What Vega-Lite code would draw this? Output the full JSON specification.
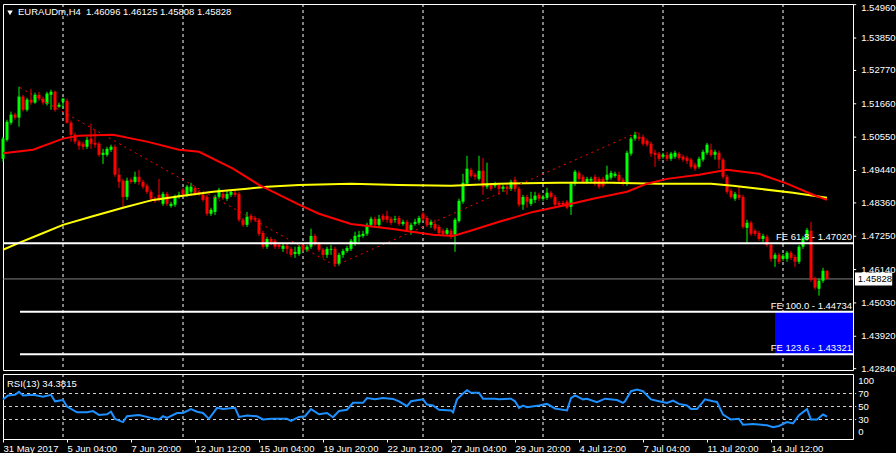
{
"$schema": "https://vega.github.io/schema/vega-lite/v6.json",
"background": "#000000",
"padding": {"left": -2, "top": 2, "right": 0, "bottom": 0},
"spacing": 4,
"bounds": "flush",
"config": {
  "view": {"stroke": "#ffffff", "strokeWidth": 1},
  "axis": {"labelColor": "#ffffff", "tickColor": "#ffffff", "labelFont": "Liberation Sans", "labelFontSize": 9.5, "domain": false, "grid": false, "tickSize": 3, "labelPadding": 2, "labelOverlap": false},
  "text": {"font": "Liberation Sans", "fontSize": 9.5, "color": "#ffffff"}
},
"datasets": {
  "sep": [{"i":15},{"i":45},{"i":75},{"i":105},{"i":135},{"i":165},{"i":195}],
  "priceTicks": [
{"i":212.5,"i2":213.3,"p":1.5496,"t":"1.54960"},{"i":212.5,"i2":213.3,"p":1.5385,"t":"1.53850"},{"i":212.5,"i2":213.3,"p":1.5277,"t":"1.52770"},{"i":212.5,"i2":213.3,"p":1.5166,"t":"1.51660"},{"i":212.5,"i2":213.3,"p":1.5055,"t":"1.50550"},{"i":212.5,"i2":213.3,"p":1.4944,"t":"1.49440"},{"i":212.5,"i2":213.3,"p":1.4836,"t":"1.48360"},{"i":212.5,"i2":213.3,"p":1.4725,"t":"1.47250"},{"i":212.5,"i2":213.3,"p":1.4614,"t":"1.46140"},{"i":212.5,"i2":213.3,"p":1.4503,"t":"1.45030"},{"i":212.5,"i2":213.3,"p":1.4392,"t":"1.43920"},{"i":212.5,"i2":213.3,"p":1.4284,"t":"1.42840"}
  ],
  "rsiTicks": [
{"i":213.8,"r":89,"t":"100"},{"i":213.8,"r":70,"t":"70"},{"i":213.8,"r":50,"t":"50"},{"i":213.8,"r":30,"t":"30"},{"i":213.8,"r":11,"t":"0"}
  ],
  "rsiLevels": [
{"i":0,"i2":213.3,"r":30},{"i":0,"i2":213.3,"r":50},{"i":0,"i2":213.3,"r":70}
  ],
  "candles": [
{"i":0,"o":1.4983,"h":1.5056,"l":1.4973,"c":1.5050},
{"i":1,"o":1.5046,"h":1.5113,"l":1.5040,"c":1.5106},
{"i":2,"o":1.5103,"h":1.5140,"l":1.5096,"c":1.5130},
{"i":3,"o":1.5130,"h":1.5136,"l":1.5113,"c":1.5120},
{"i":4,"o":1.5120,"h":1.5223,"l":1.5090,"c":1.5190},
{"i":5,"o":1.5190,"h":1.5196,"l":1.5140,"c":1.5146},
{"i":6,"o":1.5146,"h":1.5186,"l":1.5140,"c":1.5180},
{"i":7,"o":1.5180,"h":1.5216,"l":1.5163,"c":1.5170},
{"i":8,"o":1.5170,"h":1.5203,"l":1.5166,"c":1.5196},
{"i":9,"o":1.5196,"h":1.5206,"l":1.5176,"c":1.5183},
{"i":10,"o":1.5183,"h":1.5190,"l":1.5163,"c":1.5170},
{"i":11,"o":1.5166,"h":1.5206,"l":1.5160,"c":1.5200},
{"i":12,"o":1.5196,"h":1.5213,"l":1.5146,"c":1.5206},
{"i":13,"o":1.5206,"h":1.5210,"l":1.5140,"c":1.5146},
{"i":14,"o":1.5156,"h":1.5170,"l":1.5153,"c":1.5163},
{"i":15,"o":1.5173,"h":1.5186,"l":1.5150,"c":1.5183},
{"i":16,"o":1.5176,"h":1.5183,"l":1.5100,"c":1.5103},
{"i":17,"o":1.5103,"h":1.5110,"l":1.5040,"c":1.5063},
{"i":18,"o":1.5063,"h":1.5070,"l":1.5033,"c":1.5040},
{"i":19,"o":1.5040,"h":1.5046,"l":1.5013,"c":1.5026},
{"i":20,"o":1.5033,"h":1.5040,"l":1.5013,"c":1.5023},
{"i":21,"o":1.5023,"h":1.5056,"l":1.5016,"c":1.5046},
{"i":22,"o":1.5050,"h":1.5100,"l":1.5016,"c":1.5033},
{"i":23,"o":1.5036,"h":1.5080,"l":1.5020,"c":1.5030},
{"i":24,"o":1.5033,"h":1.5040,"l":1.4990,"c":1.4996},
{"i":25,"o":1.4996,"h":1.5016,"l":1.4966,"c":1.5003},
{"i":26,"o":1.4996,"h":1.5023,"l":1.4990,"c":1.5016},
{"i":27,"o":1.5013,"h":1.5030,"l":1.5006,"c":1.5023},
{"i":28,"o":1.5023,"h":1.5030,"l":1.4923,"c":1.4930},
{"i":29,"o":1.4930,"h":1.4953,"l":1.4886,"c":1.4906},
{"i":30,"o":1.4910,"h":1.4916,"l":1.4823,"c":1.4856},
{"i":31,"o":1.4856,"h":1.4920,"l":1.4846,"c":1.4910},
{"i":32,"o":1.4913,"h":1.4920,"l":1.4900,"c":1.4906},
{"i":33,"o":1.4906,"h":1.4940,"l":1.4900,"c":1.4923},
{"i":34,"o":1.4923,"h":1.4946,"l":1.4896,"c":1.4906},
{"i":35,"o":1.4906,"h":1.4913,"l":1.4883,"c":1.4890},
{"i":36,"o":1.4893,"h":1.4900,"l":1.4866,"c":1.4873},
{"i":37,"o":1.4873,"h":1.4880,"l":1.4840,"c":1.4850},
{"i":38,"o":1.4850,"h":1.4856,"l":1.4836,"c":1.4843},
{"i":39,"o":1.4863,"h":1.4916,"l":1.4840,"c":1.4850},
{"i":40,"o":1.4833,"h":1.4873,"l":1.4826,"c":1.4866},
{"i":41,"o":1.4866,"h":1.4873,"l":1.4826,"c":1.4833},
{"i":42,"o":1.4826,"h":1.4840,"l":1.4820,"c":1.4833},
{"i":43,"o":1.4830,"h":1.4863,"l":1.4823,"c":1.4856},
{"i":44,"o":1.4856,"h":1.4873,"l":1.4850,"c":1.4863},
{"i":45,"o":1.4880,"h":1.4886,"l":1.4856,"c":1.4863},
{"i":46,"o":1.4863,"h":1.4896,"l":1.4856,"c":1.4890},
{"i":47,"o":1.4873,"h":1.4903,"l":1.4866,"c":1.4890},
{"i":48,"o":1.4886,"h":1.4893,"l":1.4860,"c":1.4866},
{"i":49,"o":1.4873,"h":1.4880,"l":1.4860,"c":1.4866},
{"i":50,"o":1.4863,"h":1.4870,"l":1.4840,"c":1.4846},
{"i":51,"o":1.4856,"h":1.4863,"l":1.4793,"c":1.4800},
{"i":52,"o":1.4800,"h":1.4820,"l":1.4793,"c":1.4813},
{"i":53,"o":1.4806,"h":1.4863,"l":1.4796,"c":1.4856},
{"i":54,"o":1.4856,"h":1.4886,"l":1.4850,"c":1.4880},
{"i":55,"o":1.4866,"h":1.4873,"l":1.4846,"c":1.4853},
{"i":56,"o":1.4850,"h":1.4876,"l":1.4843,"c":1.4866},
{"i":57,"o":1.4863,"h":1.4880,"l":1.4856,"c":1.4873},
{"i":58,"o":1.4870,"h":1.4876,"l":1.4856,"c":1.4863},
{"i":59,"o":1.4866,"h":1.4873,"l":1.4773,"c":1.4780},
{"i":60,"o":1.4780,"h":1.4786,"l":1.4756,"c":1.4763},
{"i":61,"o":1.4763,"h":1.4806,"l":1.4756,"c":1.4790},
{"i":62,"o":1.4793,"h":1.4800,"l":1.4770,"c":1.4780},
{"i":63,"o":1.4786,"h":1.4793,"l":1.4773,"c":1.4780},
{"i":64,"o":1.4780,"h":1.4786,"l":1.4726,"c":1.4733},
{"i":65,"o":1.4736,"h":1.4743,"l":1.4683,"c":1.4690},
{"i":66,"o":1.4690,"h":1.4723,"l":1.4683,"c":1.4716},
{"i":67,"o":1.4716,"h":1.4723,"l":1.4696,"c":1.4706},
{"i":68,"o":1.4710,"h":1.4716,"l":1.4683,"c":1.4690},
{"i":69,"o":1.4696,"h":1.4703,"l":1.4683,"c":1.4690},
{"i":70,"o":1.4683,"h":1.4700,"l":1.4673,"c":1.4693},
{"i":71,"o":1.4693,"h":1.4700,"l":1.4666,"c":1.4683},
{"i":72,"o":1.4683,"h":1.4690,"l":1.4656,"c":1.4663},
{"i":73,"o":1.4666,"h":1.4690,"l":1.4653,"c":1.4673},
{"i":74,"o":1.4666,"h":1.4696,"l":1.4660,"c":1.4690},
{"i":75,"o":1.4696,"h":1.4703,"l":1.4673,"c":1.4680},
{"i":76,"o":1.4680,"h":1.4696,"l":1.4673,"c":1.4690},
{"i":77,"o":1.4690,"h":1.4750,"l":1.4683,"c":1.4726},
{"i":78,"o":1.4726,"h":1.4733,"l":1.4693,"c":1.4700},
{"i":79,"o":1.4700,"h":1.4706,"l":1.4673,"c":1.4680},
{"i":80,"o":1.4680,"h":1.4686,"l":1.4653,"c":1.4663},
{"i":81,"o":1.4663,"h":1.4690,"l":1.4653,"c":1.4683},
{"i":82,"o":1.4680,"h":1.4696,"l":1.4663,"c":1.4683},
{"i":83,"o":1.4683,"h":1.4690,"l":1.4623,"c":1.4633},
{"i":84,"o":1.4633,"h":1.4670,"l":1.4627,"c":1.4663},
{"i":85,"o":1.4663,"h":1.4683,"l":1.4653,"c":1.4676},
{"i":86,"o":1.4676,"h":1.4693,"l":1.4670,"c":1.4686},
{"i":87,"o":1.4683,"h":1.4716,"l":1.4676,"c":1.4710},
{"i":88,"o":1.4700,"h":1.4740,"l":1.4693,"c":1.4726},
{"i":89,"o":1.4723,"h":1.4743,"l":1.4706,"c":1.4730},
{"i":90,"o":1.4726,"h":1.4743,"l":1.4720,"c":1.4733},
{"i":91,"o":1.4733,"h":1.4770,"l":1.4726,"c":1.4763},
{"i":92,"o":1.4763,"h":1.4790,"l":1.4756,"c":1.4783},
{"i":93,"o":1.4783,"h":1.4790,"l":1.4753,"c":1.4763},
{"i":94,"o":1.4763,"h":1.4796,"l":1.4756,"c":1.4783},
{"i":95,"o":1.4793,"h":1.4800,"l":1.4773,"c":1.4780},
{"i":96,"o":1.4793,"h":1.4810,"l":1.4770,"c":1.4780},
{"i":97,"o":1.4783,"h":1.4790,"l":1.4763,"c":1.4770},
{"i":98,"o":1.4780,"h":1.4793,"l":1.4770,"c":1.4783},
{"i":99,"o":1.4786,"h":1.4793,"l":1.4760,"c":1.4766},
{"i":100,"o":1.4766,"h":1.4780,"l":1.4760,"c":1.4773},
{"i":101,"o":1.4773,"h":1.4780,"l":1.4740,"c":1.4746},
{"i":102,"o":1.4746,"h":1.4770,"l":1.4730,"c":1.4763},
{"i":103,"o":1.4766,"h":1.4783,"l":1.4760,"c":1.4773},
{"i":104,"o":1.4770,"h":1.4793,"l":1.4763,"c":1.4786},
{"i":105,"o":1.4800,"h":1.4806,"l":1.4776,"c":1.4783},
{"i":106,"o":1.4786,"h":1.4793,"l":1.4756,"c":1.4763},
{"i":107,"o":1.4763,"h":1.4780,"l":1.4753,"c":1.4773},
{"i":108,"o":1.4766,"h":1.4780,"l":1.4743,"c":1.4750},
{"i":109,"o":1.4756,"h":1.4763,"l":1.4730,"c":1.4736},
{"i":110,"o":1.4743,"h":1.4750,"l":1.4726,"c":1.4733},
{"i":111,"o":1.4733,"h":1.4753,"l":1.4726,"c":1.4746},
{"i":112,"o":1.4743,"h":1.4750,"l":1.4716,"c":1.4723},
{"i":113,"o":1.4730,"h":1.4786,"l":1.4673,"c":1.4780},
{"i":114,"o":1.4776,"h":1.4850,"l":1.4770,"c":1.4843},
{"i":115,"o":1.4840,"h":1.4933,"l":1.4833,"c":1.4903},
{"i":116,"o":1.4900,"h":1.4993,"l":1.4893,"c":1.4950},
{"i":117,"o":1.4946,"h":1.4953,"l":1.4920,"c":1.4926},
{"i":118,"o":1.4930,"h":1.4936,"l":1.4913,"c":1.4923},
{"i":119,"o":1.4916,"h":1.4993,"l":1.4910,"c":1.4943},
{"i":120,"o":1.4943,"h":1.4986,"l":1.4863,"c":1.4890},
{"i":121,"o":1.4890,"h":1.4970,"l":1.4883,"c":1.4900},
{"i":122,"o":1.4896,"h":1.4903,"l":1.4876,"c":1.4883},
{"i":123,"o":1.4893,"h":1.4906,"l":1.4886,"c":1.4900},
{"i":124,"o":1.4896,"h":1.4903,"l":1.4863,"c":1.4883},
{"i":125,"o":1.4883,"h":1.4896,"l":1.4873,"c":1.4890},
{"i":126,"o":1.4890,"h":1.4896,"l":1.4863,"c":1.4883},
{"i":127,"o":1.4883,"h":1.4913,"l":1.4876,"c":1.4906},
{"i":128,"o":1.4913,"h":1.4923,"l":1.4873,"c":1.4883},
{"i":129,"o":1.4883,"h":1.4890,"l":1.4823,"c":1.4830},
{"i":130,"o":1.4830,"h":1.4863,"l":1.4813,"c":1.4856},
{"i":131,"o":1.4856,"h":1.4863,"l":1.4820,"c":1.4840},
{"i":132,"o":1.4833,"h":1.4873,"l":1.4826,"c":1.4850},
{"i":133,"o":1.4846,"h":1.4873,"l":1.4836,"c":1.4860},
{"i":134,"o":1.4863,"h":1.4870,"l":1.4843,"c":1.4850},
{"i":135,"o":1.4850,"h":1.4863,"l":1.4843,"c":1.4856},
{"i":136,"o":1.4853,"h":1.4886,"l":1.4846,"c":1.4870},
{"i":137,"o":1.4870,"h":1.4876,"l":1.4850,"c":1.4856},
{"i":138,"o":1.4856,"h":1.4863,"l":1.4823,"c":1.4830},
{"i":139,"o":1.4836,"h":1.4843,"l":1.4823,"c":1.4830},
{"i":140,"o":1.4836,"h":1.4843,"l":1.4823,"c":1.4830},
{"i":141,"o":1.4840,"h":1.4846,"l":1.4816,"c":1.4820},
{"i":142,"o":1.4823,"h":1.4906,"l":1.4796,"c":1.4900},
{"i":143,"o":1.4900,"h":1.4946,"l":1.4893,"c":1.4940},
{"i":144,"o":1.4936,"h":1.4943,"l":1.4910,"c":1.4916},
{"i":145,"o":1.4923,"h":1.4930,"l":1.4900,"c":1.4906},
{"i":146,"o":1.4906,"h":1.4923,"l":1.4900,"c":1.4916},
{"i":147,"o":1.4910,"h":1.4923,"l":1.4903,"c":1.4916},
{"i":148,"o":1.4923,"h":1.4930,"l":1.4893,"c":1.4900},
{"i":149,"o":1.4916,"h":1.4923,"l":1.4883,"c":1.4890},
{"i":150,"o":1.4916,"h":1.4923,"l":1.4886,"c":1.4893},
{"i":151,"o":1.4913,"h":1.4960,"l":1.4906,"c":1.4930},
{"i":152,"o":1.4920,"h":1.4943,"l":1.4913,"c":1.4936},
{"i":153,"o":1.4926,"h":1.4940,"l":1.4920,"c":1.4933},
{"i":154,"o":1.4930,"h":1.4940,"l":1.4903,"c":1.4910},
{"i":155,"o":1.4913,"h":1.4920,"l":1.4893,"c":1.4900},
{"i":156,"o":1.4900,"h":1.5010,"l":1.4893,"c":1.5003},
{"i":157,"o":1.5000,"h":1.5056,"l":1.4993,"c":1.5050},
{"i":158,"o":1.5050,"h":1.5073,"l":1.5043,"c":1.5063},
{"i":159,"o":1.5056,"h":1.5070,"l":1.5043,"c":1.5050},
{"i":160,"o":1.5056,"h":1.5063,"l":1.5026,"c":1.5033},
{"i":161,"o":1.5043,"h":1.5050,"l":1.5023,"c":1.5030},
{"i":162,"o":1.5033,"h":1.5040,"l":1.4990,"c":1.5000},
{"i":163,"o":1.5003,"h":1.5013,"l":1.4956,"c":1.4996},
{"i":164,"o":1.5000,"h":1.5006,"l":1.4976,"c":1.4983},
{"i":165,"o":1.4990,"h":1.5003,"l":1.4983,"c":1.4996},
{"i":166,"o":1.4996,"h":1.5006,"l":1.4976,"c":1.4983},
{"i":167,"o":1.4983,"h":1.5006,"l":1.4976,"c":1.5000},
{"i":168,"o":1.4990,"h":1.5010,"l":1.4983,"c":1.5003},
{"i":169,"o":1.5000,"h":1.5006,"l":1.4980,"c":1.4986},
{"i":170,"o":1.4990,"h":1.4996,"l":1.4973,"c":1.4980},
{"i":171,"o":1.4986,"h":1.4993,"l":1.4966,"c":1.4976},
{"i":172,"o":1.4980,"h":1.4986,"l":1.4950,"c":1.4956},
{"i":173,"o":1.4963,"h":1.4970,"l":1.4943,"c":1.4950},
{"i":174,"o":1.4956,"h":1.4990,"l":1.4950,"c":1.4983},
{"i":175,"o":1.4980,"h":1.5013,"l":1.4973,"c":1.5006},
{"i":176,"o":1.5003,"h":1.5036,"l":1.4996,"c":1.5030},
{"i":177,"o":1.5013,"h":1.5033,"l":1.4990,"c":1.4996},
{"i":178,"o":1.4996,"h":1.5013,"l":1.4980,"c":1.5006},
{"i":179,"o":1.5003,"h":1.5010,"l":1.4950,"c":1.4980},
{"i":180,"o":1.4980,"h":1.4986,"l":1.4916,"c":1.4923},
{"i":181,"o":1.4923,"h":1.4930,"l":1.4866,"c":1.4873},
{"i":182,"o":1.4876,"h":1.4883,"l":1.4850,"c":1.4856},
{"i":183,"o":1.4850,"h":1.4873,"l":1.4843,"c":1.4866},
{"i":184,"o":1.4863,"h":1.4890,"l":1.4846,"c":1.4853},
{"i":185,"o":1.4856,"h":1.4863,"l":1.4750,"c":1.4756},
{"i":186,"o":1.4753,"h":1.4780,"l":1.4703,"c":1.4770},
{"i":187,"o":1.4770,"h":1.4776,"l":1.4726,"c":1.4733},
{"i":188,"o":1.4743,"h":1.4750,"l":1.4726,"c":1.4733},
{"i":189,"o":1.4736,"h":1.4743,"l":1.4710,"c":1.4716},
{"i":190,"o":1.4716,"h":1.4733,"l":1.4706,"c":1.4726},
{"i":191,"o":1.4723,"h":1.4730,"l":1.4690,"c":1.4696},
{"i":192,"o":1.4696,"h":1.4703,"l":1.4640,"c":1.4650},
{"i":193,"o":1.4650,"h":1.4670,"l":1.4623,"c":1.4663},
{"i":194,"o":1.4663,"h":1.4670,"l":1.4633,"c":1.4640},
{"i":195,"o":1.4650,"h":1.4666,"l":1.4643,"c":1.4660},
{"i":196,"o":1.4650,"h":1.4676,"l":1.4640,"c":1.4670},
{"i":197,"o":1.4670,"h":1.4676,"l":1.4646,"c":1.4653},
{"i":198,"o":1.4656,"h":1.4663,"l":1.4623,"c":1.4640},
{"i":199,"o":1.4640,"h":1.4696,"l":1.4633,"c":1.4690},
{"i":200,"o":1.4690,"h":1.4726,"l":1.4683,"c":1.4720},
{"i":201,"o":1.4716,"h":1.4753,"l":1.4710,"c":1.4746},
{"i":202,"o":1.4743,"h":1.4773,"l":1.4573,"c":1.4580},
{"i":203,"o":1.4584,"h":1.4590,"l":1.4547,"c":1.4554},
{"i":204,"o":1.4550,"h":1.4584,"l":1.4527,"c":1.4577},
{"i":205,"o":1.4577,"h":1.4620,"l":1.4570,"c":1.4610},
{"i":206,"o":1.46096,"h":1.46125,"l":1.45808,"c":1.45828}
  ],
  "maRed": [
{"i":0,"p":1.5001},{"i":7.5,"p":1.5013},{"i":15,"p":1.5050},{"i":19,"p":1.5060},{"i":27.5,"p":1.5063},{"i":36,"p":1.5040},{"i":44,"p":1.5013},{"i":49,"p":1.5006},{"i":57.5,"p":1.4950},{"i":64,"p":1.4896},{"i":74,"p":1.4830},{"i":79,"p":1.4800},{"i":87,"p":1.4766},{"i":97,"p":1.4750},{"i":107.5,"p":1.4730},{"i":112.5,"p":1.4726},{"i":117.5,"p":1.4746},{"i":124,"p":1.4773},{"i":132.5,"p":1.4806},{"i":141,"p":1.4830},{"i":147.5,"p":1.4850},{"i":156,"p":1.4873},{"i":161,"p":1.4900},{"i":166,"p":1.4916},{"i":174,"p":1.4930},{"i":181,"p":1.4946},{"i":189,"p":1.4933},{"i":196,"p":1.4900},{"i":202.5,"p":1.4863},{"i":206,"p":1.4846}
  ],
  "maYellow": [
{"i":0,"p":1.4680},{"i":4,"p":1.4703},{"i":9,"p":1.4730},{"i":15,"p":1.4763},{"i":22,"p":1.4790},{"i":30,"p":1.4820},{"i":37.5,"p":1.4846},{"i":45,"p":1.4860},{"i":52.5,"p":1.4873},{"i":61,"p":1.4883},{"i":66,"p":1.4890},{"i":74,"p":1.4896},{"i":87,"p":1.4900},{"i":99,"p":1.4896},{"i":112,"p":1.4893},{"i":124,"p":1.4900},{"i":139,"p":1.4903},{"i":152,"p":1.4903},{"i":164,"p":1.4900},{"i":177,"p":1.4900},{"i":182.5,"p":1.4893},{"i":189,"p":1.4883},{"i":197.5,"p":1.4870},{"i":206,"p":1.4853}
  ],
  "fePath": [{"i":4.25,"p":1.5220},{"i":83,"p":1.4627},{"i":158.5,"p":1.5070}],
  "feLevels": [
{"i":0,"i2":212.5,"p":1.4702,"t":"FE 61.8 - 1.47020"},
{"i":4.25,"i2":212.5,"p":1.44734,"t":"FE 100.0 - 1.44734"},
{"i":4.25,"i2":212.5,"p":1.43321,"t":"FE 123.6 - 1.43321"}
  ],
  "rsi": [
{"i":0,"r":61},{"i":1.25,"r":67},{"i":3,"r":68},{"i":4,"r":72.5},{"i":5,"r":67},{"i":7.5,"r":68},{"i":10,"r":65},{"i":12,"r":68},{"i":13,"r":58},{"i":15,"r":60},{"i":16,"r":50},{"i":18.5,"r":41},{"i":21,"r":41},{"i":22.5,"r":43},{"i":24,"r":37},{"i":26,"r":38},{"i":27,"r":42},{"i":28,"r":31},{"i":30,"r":26},{"i":31,"r":35},{"i":34,"r":37},{"i":37,"r":32.5},{"i":39,"r":30},{"i":40,"r":35},{"i":41,"r":32.5},{"i":43.5,"r":40},{"i":45,"r":40},{"i":47,"r":46},{"i":48.5,"r":42},{"i":50,"r":40},{"i":51.5,"r":31},{"i":53.5,"r":48},{"i":55,"r":46},{"i":58,"r":48},{"i":59,"r":34},{"i":61,"r":36},{"i":63.5,"r":35},{"i":65,"r":30},{"i":67,"r":31},{"i":71,"r":31},{"i":72,"r":28},{"i":74,"r":34},{"i":75.5,"r":35},{"i":77,"r":46},{"i":79,"r":38},{"i":81,"r":40},{"i":82.5,"r":33.5},{"i":84,"r":43},{"i":86,"r":45},{"i":87.5,"r":55.6},{"i":90,"r":55.6},{"i":91,"r":63},{"i":93,"r":61},{"i":95,"r":63},{"i":97.5,"r":61.7},{"i":99,"r":58},{"i":101,"r":50.5},{"i":102,"r":58},{"i":105,"r":61},{"i":106,"r":53},{"i":107.5,"r":51.5},{"i":109,"r":45},{"i":112,"r":44},{"i":112.5,"r":41},{"i":113.5,"r":61},{"i":115,"r":70},{"i":116,"r":75},{"i":117,"r":71},{"i":119,"r":71},{"i":120,"r":62},{"i":123,"r":62},{"i":124,"r":61},{"i":127,"r":62},{"i":128,"r":58},{"i":129,"r":48},{"i":130,"r":51.5},{"i":131,"r":49},{"i":134,"r":51.5},{"i":136,"r":54},{"i":138,"r":47},{"i":141,"r":44},{"i":142,"r":63},{"i":143,"r":67},{"i":145,"r":61},{"i":146,"r":62},{"i":148.5,"r":56.6},{"i":150.5,"r":62},{"i":153.5,"r":60},{"i":155,"r":55.6},{"i":155.5,"r":58},{"i":157,"r":73.5},{"i":158.5,"r":76},{"i":160,"r":73.5},{"i":162,"r":61},{"i":164,"r":58},{"i":166,"r":55.6},{"i":167.5,"r":59},{"i":169,"r":54},{"i":171,"r":51.5},{"i":172,"r":46},{"i":173.5,"r":46},{"i":175.5,"r":61},{"i":177.5,"r":58},{"i":178.5,"r":57},{"i":180,"r":37.6},{"i":182,"r":30},{"i":184,"r":31},{"i":185,"r":22},{"i":187.5,"r":23},{"i":191,"r":21},{"i":192.5,"r":18},{"i":194,"r":20},{"i":196,"r":26},{"i":197.5,"r":24},{"i":199,"r":36.6},{"i":201,"r":46},{"i":202,"r":30},{"i":203.5,"r":30},{"i":205,"r":37.6},{"i":206,"r":34.4}
  ]
},
"vconcat": [
{
  "width": 850, "height": 366,
  "encoding": {
    "x": {"field": "i", "type": "quantitative", "scale": {"domain": [0, 212.5], "nice": false, "zero": false, "padding": 0}, "axis": null}
  },
  "layer": [
    {"data": {"name": "sep"}, "mark": {"type": "rule", "color": "#ffffff", "strokeDash": [3, 3], "strokeWidth": 1},
     "encoding": {"x": {"field": "i", "type": "quantitative"}}},
    {"data": {"values": [{"i": 193, "i2": 212.5, "p": 1.44734, "p2": 1.43321}]}, "mark": {"type": "rect", "color": "#0000ff"},
     "encoding": {"x2": {"field": "i2"},
       "y": {"field": "p", "type": "quantitative", "scale": {"domain": [1.42796, 1.54983], "nice": false, "zero": false}, "axis": null},
       "y2": {"field": "p2"}}},
    {"data": {"values": [{"i": 0, "i2": 212.5, "p": 1.45828}]}, "mark": {"type": "rule", "color": "#808080", "strokeWidth": 1},
     "encoding": {"x2": {"field": "i2"}, "y": {"field": "p", "type": "quantitative"}}},
    {"data": {"name": "candles"}, "mark": {"type": "rule", "strokeWidth": 1},
     "encoding": {
       "y": {"field": "l", "type": "quantitative"},
       "y2": {"field": "h"},
       "color": {"condition": {"test": "datum.c >= datum.o", "value": "#00ff00"}, "value": "#ff0000"}}},
    {"data": {"name": "candles"}, "mark": {"type": "bar", "width": 3},
     "encoding": {
       "y": {"field": "o", "type": "quantitative"},
       "y2": {"field": "c"},
       "color": {"condition": {"test": "datum.c >= datum.o", "value": "#00ff00"}, "value": "#ff0000"}}},
    {"data": {"name": "maYellow"}, "mark": {"type": "line", "color": "#ffff00", "strokeWidth": 2},
     "encoding": {"y": {"field": "p", "type": "quantitative"}}},
    {"data": {"name": "maRed"}, "mark": {"type": "line", "color": "#ff0000", "strokeWidth": 2},
     "encoding": {"y": {"field": "p", "type": "quantitative"}}},
    {"data": {"name": "fePath"}, "mark": {"type": "line", "color": "#ff0000", "strokeWidth": 1, "strokeDash": [2, 4]},
     "encoding": {"y": {"field": "p", "type": "quantitative"}}},
    {"data": {"name": "feLevels"}, "mark": {"type": "rule", "color": "#ffffff", "strokeWidth": 2},
     "encoding": {"x2": {"field": "i2"}, "y": {"field": "p", "type": "quantitative"}}},
    {"data": {"name": "feLevels"}, "mark": {"type": "text", "align": "right", "baseline": "alphabetic", "dy": -3, "dx": -1},
     "encoding": {"x": {"field": "i2", "type": "quantitative"},
       "y": {"field": "p", "type": "quantitative"},
       "text": {"field": "t"}}},
    {"data": {"values": [{"i": 3.75, "p": 1.5470, "t": "EURAUDm,H4\u00a0\u00a01.46096 1.46125 1.45808 1.45828"}]}, "mark": {"type": "text", "align": "left", "baseline": "middle"},
     "encoding": {"y": {"field": "p", "type": "quantitative"}, "text": {"field": "t"}}},
    {"data": {"values": [{"i": 1.75, "p": 1.5469}]}, "mark": {"type": "point", "shape": "triangle-down", "filled": true, "color": "#ffffff", "size": 30, "opacity": 1},
     "encoding": {"y": {"field": "p", "type": "quantitative"}}},
    {"data": {"name": "priceTicks"}, "mark": {"type": "rule", "color": "#ffffff", "strokeWidth": 1},
     "encoding": {"x2": {"field": "i2"}, "y": {"field": "p", "type": "quantitative"}}},
    {"data": {"name": "priceTicks"}, "transform": [{"filter": "datum.p < 1.549"}], "mark": {"type": "text", "align": "left", "baseline": "middle", "dx": 5},
     "encoding": {"x": {"field": "i2", "type": "quantitative"}, "y": {"field": "p", "type": "quantitative"}, "text": {"field": "t"}}},
    {"data": {"name": "priceTicks"}, "transform": [{"filter": "datum.p > 1.549"}], "mark": {"type": "text", "align": "left", "baseline": "middle", "dx": 5, "dy": 3},
     "encoding": {"x": {"field": "i2", "type": "quantitative"}, "y": {"field": "p", "type": "quantitative"}, "text": {"field": "t"}}},
    {"data": {"values": [{"i": 213, "i2": 222.3, "p": 1.46042, "p2": 1.45609}]}, "mark": {"type": "rect", "color": "#ffffff"},
     "encoding": {"x2": {"field": "i2"}, "y": {"field": "p", "type": "quantitative"}, "y2": {"field": "p2"}}},
    {"data": {"values": [{"i": 213.7, "p": 1.45828, "t": "1.45828"}]}, "mark": {"type": "text", "align": "left", "baseline": "middle", "color": "#000000"},
     "encoding": {"y": {"field": "p", "type": "quantitative"}, "text": {"field": "t"}}}
  ]
},
{
  "width": 850, "height": 65,
  "encoding": {
    "x": {"field": "i", "type": "quantitative", "scale": {"domain": [0, 212.5], "nice": false, "zero": false, "padding": 0},
        "axis": {"orient": "bottom", "title": null, "values": [0, 16, 32, 48, 64, 80, 96, 112, 128, 144, 160, 176, 192], "labelAlign": "left", "labelPadding": 1, "labelFlush": false, "labelBound": false, "labelOverlap": false,
                 "labelExpr": "['31 May 2017','5 Jun 04:00','7 Jun 20:00','12 Jun 12:00','15 Jun 04:00','19 Jun 20:00','22 Jun 12:00','27 Jun 04:00','29 Jun 20:00','4 Jul 12:00','7 Jul 04:00','11 Jul 20:00','14 Jul 12:00'][round(datum.value/16)]"}}
  },
  "layer": [
    {"data": {"name": "sep"}, "mark": {"type": "rule", "color": "#ffffff", "strokeDash": [3, 3], "strokeWidth": 1},
     "encoding": {}},
    {"data": {"name": "rsiLevels"}, "mark": {"type": "rule", "color": "#d0d0d0", "strokeDash": [3, 3], "strokeWidth": 1},
     "encoding": {"x2": {"field": "i2"}, "y": {"field": "r", "type": "quantitative", "scale": {"domain": [0, 100], "nice": false, "zero": false}, "axis": null}}},
    {"data": {"name": "rsi"}, "mark": {"type": "line", "color": "#1e90ff", "strokeWidth": 2},
     "encoding": {"y": {"field": "r", "type": "quantitative"}}},
    {"data": {"values": [{"i": 1, "r": 85, "t": "RSI(13) 34.3815"}]}, "mark": {"type": "text", "align": "left", "baseline": "middle"},
     "encoding": {"y": {"field": "r", "type": "quantitative"}, "text": {"field": "t"}}},
    {"data": {"name": "rsiTicks"}, "mark": {"type": "text", "align": "left", "baseline": "middle"},
     "encoding": {"y": {"field": "r", "type": "quantitative"}, "text": {"field": "t"}}}
  ]
}
]
}
